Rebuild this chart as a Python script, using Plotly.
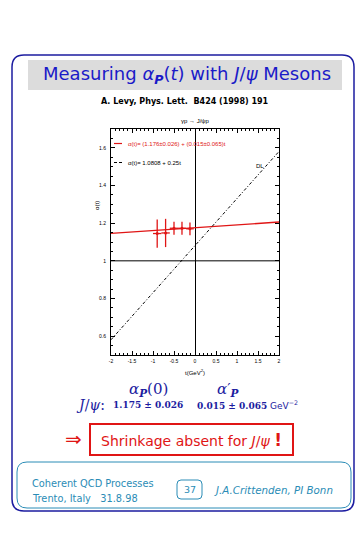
import plotly.graph_objects as go

# ---------------- data ----------------
t_points = [-0.90, -0.70, -0.50, -0.31, -0.12]
alpha_points = [1.145, 1.148, 1.173, 1.173, 1.170]
alpha_err = [0.075, 0.075, 0.034, 0.034, 0.034]
t_err = [0.10, 0.10, 0.10, 0.09, 0.09]

fit_t = [-2.0, 2.0]
fit_alpha = [1.146, 1.206]          # (1.176±0.026) + (0.015±0.065)t
dl_t = [-2.0, 2.0]
dl_alpha = [0.5808, 1.5808]         # 1.0808 + 0.25t

x_ticks = [-2, -1.5, -1, -0.5, 0, 0.5, 1, 1.5, 2]
x_ticklabels = ["-2", "-1.5", "-1", "-0.5", "0", "0.5", "1", "1.5", "2"]
y_ticks = [0.6, 0.8, 1.0, 1.2, 1.4, 1.6]
y_ticklabels = ["0.6", "0.8", "1", "1.2", "1.4", "1.6"]

# ---------------- layout helpers ----------------
OFF = 8                       # browser body margin
W, H = 363 - OFF, 535 - OFF
L, R, T, B = 111, 279, 129, 355  # plot area in page pixels


def px(x):
    return (x - L) / (R - L)


def py(y):
    return (B - y) / (B - T)


def rrect(x0, y0, x1, y1, r):
    pts = [
        f"M {px(x0 + r)},{py(y0)}",
        f"L {px(x1 - r)},{py(y0)}",
        f"Q {px(x1)},{py(y0)} {px(x1)},{py(y0 + r)}",
        f"L {px(x1)},{py(y1 - r)}",
        f"Q {px(x1)},{py(y1)} {px(x1 - r)},{py(y1)}",
        f"L {px(x0 + r)},{py(y1)}",
        f"Q {px(x0)},{py(y1)} {px(x0)},{py(y1 - r)}",
        f"L {px(x0)},{py(y0 + r)}",
        f"Q {px(x0)},{py(y0)} {px(x0 + r)},{py(y0)}",
        "Z",
    ]
    return " ".join(pts)


RED = "#e01515"
BLUE = "#1a1ac8"
NAVY = "#1c1ca0"
TEAL = "#2a8cb6"

fig = go.Figure()

fig.add_trace(go.Scatter(
    x=fit_t, y=fit_alpha, mode="lines",
    line=dict(color=RED, width=1.4), showlegend=False, hoverinfo="skip"))

fig.add_trace(go.Scatter(
    x=dl_t, y=dl_alpha, mode="lines",
    line=dict(color="black", width=1, dash="3px,2px,1px,2px"),
    showlegend=False, hoverinfo="skip"))

fig.add_trace(go.Scatter(
    x=t_points, y=alpha_points, mode="markers",
    marker=dict(color=RED, size=3),
    error_y=dict(type="data", array=alpha_err, color=RED, thickness=1.3, width=0),
    error_x=dict(type="data", array=t_err, color=RED, thickness=1.3, width=0),
    showlegend=False))

shapes = []
shapes.append(dict(type="line", xref="x", yref="y", x0=-2, x1=2, y0=1, y1=1,
                   line=dict(color="black", width=1)))
shapes.append(dict(type="path", xref="paper", yref="paper",
                   path=rrect(12, 55, 354, 511, 12),
                   line=dict(color=NAVY, width=1.5), layer="below"))
shapes.append(dict(type="rect", xref="paper", yref="paper",
                   x0=px(28), x1=px(342), y0=py(60), y1=py(90),
                   fillcolor="#dcdcdc", line=dict(width=0), layer="below"))
shapes.append(dict(type="line", xref="paper", yref="paper",
                   x0=px(114), x1=px(122), y0=py(143.5), y1=py(143.5),
                   line=dict(color=RED, width=1.2)))
shapes.append(dict(type="line", xref="paper", yref="paper",
                   x0=px(114), x1=px(122), y0=py(162.5), y1=py(162.5),
                   line=dict(color="black", width=1, dash="3px,2px")))
shapes.append(dict(type="rect", xref="paper", yref="paper",
                   x0=px(90), x1=px(293), y0=py(424), y1=py(455),
                   line=dict(color=RED, width=2)))
shapes.append(dict(type="path", xref="paper", yref="paper",
                   path=rrect(17, 462, 351, 508, 10),
                   line=dict(color=TEAL, width=1)))
shapes.append(dict(type="path", xref="paper", yref="paper",
                   path=rrect(177, 480, 202, 499, 4),
                   line=dict(color=TEAL, width=1)))

SANS = "DejaVu Sans"
SERIF = "DejaVu Serif"


def ann(x, y, text, size, color="black", family=SANS, xanchor="center", **kw):
    return dict(x=px(x), y=py(y), xref="paper", yref="paper", text=text,
                showarrow=False, xanchor=xanchor, yanchor="middle",
                font=dict(size=size, color=color, family=family), **kw)


annotations = [
    ann(187, 75, "Measuring <i>α</i><sub><b><i>P</i></b></sub>(<i>t</i>) with <i>J</i>/<i>ψ</i> Mesons",
        18, BLUE),
    ann(185, 102, "<b>A. Levy, Phys. Lett.  B424 (1998) 191</b>", 8, "black"),
    ann(195, 121, "γp → J/ψp", 6, "black", "Liberation Sans"),
    ann(126, 143.5, "α(t)= (1.176±0.026) + (0.015±0.065)t", 6, RED, "Liberation Sans", xanchor="left"),
    ann(126, 162.5, "α(t)= 1.0808 + 0.25t", 6, "black", "Liberation Sans", xanchor="left"),
    dict(x=1.55, y=1.505, xref="x", yref="y", text="DL", showarrow=False,
         font=dict(size=6, color="black", family="Liberation Sans")),
    ann(97, 206, "α(t)", 6, "black", "Liberation Sans", textangle=-90),
    ann(195, 372, "t(GeV<sup>2</sup>)", 6, "black", "Liberation Sans"),
    ann(148, 389, "<i>α</i><sub><b><i>P</i></b></sub>(0)", 15, NAVY, SERIF),
    ann(228, 389, "<i>α</i>′<sub><b><i>P</i></b></sub>", 15, NAVY, SERIF),
    ann(74, 405, "<i>J</i>/<i>ψ</i>:", 14, NAVY, SERIF, xanchor="left"),
    ann(148, 405, "<b>1.175 ± 0.026</b>", 9, NAVY, SERIF),
    ann(195, 405, "<b>0.015 ± 0.065</b><span style='font-family:DejaVu Sans'> GeV<sup>−2</sup></span>",
        9, NAVY, SERIF, xanchor="left"),
    ann(73, 439, "⇒", 20, RED, SANS),
    ann(191, 439.5, "Shrinkage absent for <i>J</i>/<i>ψ</i> <b><span style='font-size:17px'>!</span></b>",
        14, RED, SANS),
    ann(30, 483, "Coherent QCD Processes", 9.8, TEAL, SANS, xanchor="left"),
    ann(30, 498, "Trento, Italy   31.8.98", 9.8, TEAL, SANS, xanchor="left"),
    ann(189.5, 489.5, "37", 9.5, TEAL, SANS),
    ann(273.5, 490, "<i>J.A.Crittenden, PI Bonn</i>", 10.3, TEAL, SANS),
]

axis_common = dict(
    showline=True, linecolor="black", linewidth=1, mirror="ticks",
    ticks="inside", ticklen=4, tickwidth=1, tickcolor="black",
    showgrid=False, tickfont=dict(size=5, family="Liberation Sans", color="black"),
)

fig.update_layout(
    width=W, height=H,
    margin=dict(l=L - OFF, r=363 - R, t=T - OFF, b=535 - B, pad=0),
    paper_bgcolor="white", plot_bgcolor="white",
    shapes=shapes, annotations=annotations,
    xaxis=dict(range=[-2, 2], tickvals=x_ticks, ticktext=x_ticklabels,
               zeroline=True, zerolinecolor="black", zerolinewidth=1,
               minor=dict(ticks="inside", ticklen=2, dtick=0.1, tickcolor="black"),
               ticklabelstandoff=1, **axis_common),
    yaxis=dict(range=[0.5, 1.7], tickvals=y_ticks, ticktext=y_ticklabels,
               zeroline=False,
               minor=dict(ticks="inside", ticklen=2, dtick=0.05, tickcolor="black"),
               ticklabelstandoff=3, **axis_common),
    showlegend=False,
)

fig.write_html("out.html")
